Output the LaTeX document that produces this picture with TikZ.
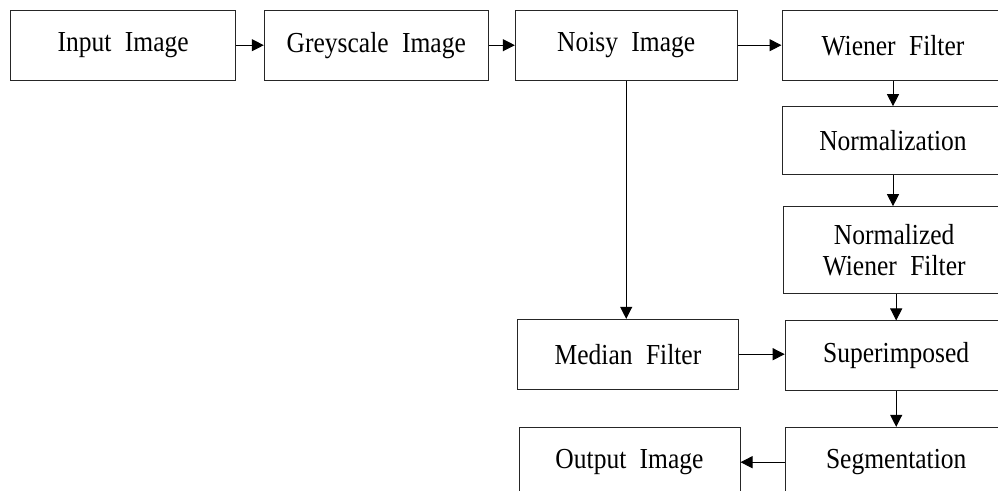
\documentclass[tikz,border=0pt]{standalone}
\usepackage{fontspec}
\setmainfont{Liberation Serif}[FakeStretch=0.88, WordSpace=2.1]
\usetikzlibrary{arrows.meta}
\begin{document}
\begin{tikzpicture}[x=1pt,y=1pt,
  stage/.style={draw=black!85, line width=1pt, fill=white, inner sep=0pt,
    minimum height=69.7pt, align=center,
    font=\fontsize{29}{31}\selectfont},
  flow/.style={draw=black, line width=1pt, -{Triangle[length=12pt,width=12pt]}}]
\useasboundingbox (0,0) rectangle (998,-490);
\clip (0,0) rectangle (998,-490);
% top row
\node[stage, minimum width=225pt] (in) at (123.2,-45.2) {Input Image};
\node[stage, minimum width=224pt] (grey) at (376.3,-45.2) {Greyscale Image};
\node[stage, minimum width=221.7pt] (noisy) at (626.2,-45.2) {Noisy Image};
\node[stage, minimum width=222pt] (wiener) at (893,-45.2) {Wiener Filter};
% right column
\node[stage, minimum width=222pt, minimum height=68.3pt] (norm) at (893,-140.8) {Normalization};
\node[stage, minimum width=222pt, minimum height=86.7pt] (normw) at (894.2,-250) {Normalized\\Wiener Filter};
\node[stage, minimum width=222pt] (sup) at (896.2,-355.8) {Superimposed};
\node[stage, minimum width=222pt] (seg) at (896.2,-462.2) {Segmentation};
% middle column
\node[stage, minimum width=221.4pt] (median) at (628,-354.2) {Median Filter};
\node[stage, minimum width=221pt] (out) at (629.5,-462.2) {Output Image};
% connectors
\draw[flow] (in) -- (grey);
\draw[flow] (grey) -- (noisy);
\draw[flow] (noisy) -- (wiener);
\draw[flow] (wiener.south) -- (wiener.south |- norm.north);
\draw[flow] (norm.south) -- (norm.south |- normw.north);
\draw[flow] (normw.south -| sup.north) -- (sup.north);
\draw[flow] (noisy.south) -- (noisy.south |- median.north);
\draw[flow] (median) -- (median -| sup.west);
\draw[flow] (sup.south) -- (seg.north);
\draw[flow] (seg) -- (seg -| out.east);
\end{tikzpicture}
\end{document}
